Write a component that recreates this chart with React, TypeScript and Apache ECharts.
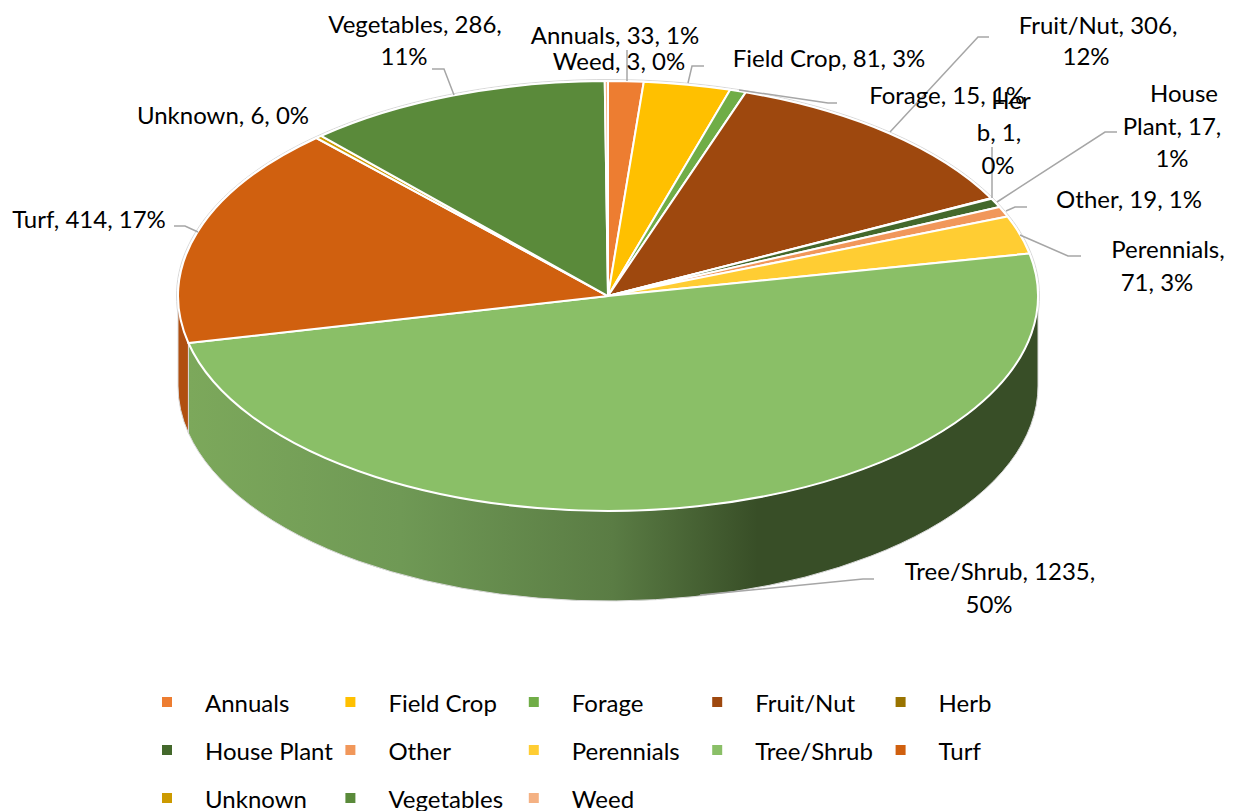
import React, { useEffect, useRef } from "react";
import * as echarts from "echarts";

const categories = ["Annuals","Field Crop","Forage","Fruit/Nut","Herb","House Plant","Other","Perennials","Tree/Shrub","Turf","Unknown","Vegetables","Weed"];
const values = [33,81,15,306,1,17,19,71,1235,414,6,286,3];
const colors = ["#ED7D31","#FFC000","#70AD47","#9E480E","#997300","#43682B","#F1975A","#FFCD33","#8ABF67","#D0600F","#CC9A00","#5A8A3A","#F4B183"];
const sideColors: any = { "Turf": "#B04F10" };

const labelTexts = [
  { t: "Annuals, 33, 1%", x: 615, y: 34 },
  { t: "Field Crop, 81, 3%", x: 829, y: 57 },
  { t: "Forage, 15, 1%", x: 947, y: 94 },
  { t: "Fruit/Nut, 306,", x: 1098, y: 24 },
  { t: "12%", x: 1086, y: 55 },
  { t: "Her", x: 1011, y: 99 },
  { t: "b, 1,", x: 999, y: 131 },
  { t: "0%", x: 998, y: 164 },
  { t: "House", x: 1184, y: 92 },
  { t: "Plant, 17,", x: 1172, y: 125 },
  { t: "1%", x: 1172, y: 157 },
  { t: "Other, 19, 1%", x: 1129, y: 198 },
  { t: "Perennials,", x: 1168, y: 248 },
  { t: "71, 3%", x: 1157, y: 281 },
  { t: "Tree/Shrub, 1235,", x: 1000, y: 570 },
  { t: "50%", x: 989, y: 603 },
  { t: "Turf, 414, 17%", x: 89, y: 218 },
  { t: "Unknown, 6, 0%", x: 223, y: 114 },
  { t: "Vegetables, 286,", x: 415, y: 23 },
  { t: "11%", x: 404, y: 55 },
  { t: "Weed, 3, 0%", x: 619, y: 60 },
];

const leaders = [
  [[627,50],[627,81]],
  [[688,83],[692,66],[704,66]],
  [[739,90],[828,103],[837,103]],
  [[890,132],[978,37],[989,37]],
  [[992,147],[992,198]],
  [[997,202],[1105,132],[1117,132]],
  [[1006,211],[1015,207],[1027,207]],
  [[1020,235],[1068,256],[1081,256]],
  [[700,595],[863,579],[874,579]],
  [[198,232],[185,226],[174,226]],
  [[454,95],[444,69],[432,69]],
];

const CX = 608, CY = 296, RX = 430, RY = 215, DEPTH = 90;
const FONT = "Lato";
const FS = 24;

const total = values.reduce((a, b) => a + b, 0);
const pt = (deg: number, dy = 0) => {
  const r = (deg * Math.PI) / 180;
  return [CX + RX * Math.sin(r), CY - RY * Math.cos(r) + dy];
};
const spans = (() => {
  let acc = 0;
  return values.map((v) => {
    const a0 = (acc / total) * 360;
    acc += v;
    return [a0, (acc / total) * 360];
  });
})();

export default function App() {
  const ref = useRef<HTMLDivElement>(null);
  useEffect(() => {
    document.body.style.margin = "0";
    const chart = echarts.init(ref.current!, null, { renderer: "svg" });
    const series = categories.map((name, i) => ({
      type: "custom",
      name,
      coordinateSystem: "none",
      silent: true,
      itemStyle: { color: colors[i] },
      data: [[values[i]]],
      renderItem: () => {
        const [a0, a1] = spans[i];
        const s = pt(a0), e = pt(a1);
        const large = a1 - a0 > 180 ? 1 : 0;
        const children: any[] = [];
        const lo = Math.max(a0, 90), hi = Math.min(a1, 270);
        if (lo < hi) {
          const p0 = pt(lo), p1 = pt(hi), q1 = pt(hi, DEPTH), q0 = pt(lo, DEPTH);
          const fill = name === "Tree/Shrub"
            ? {
                type: "linear", x: 0, y: 0, x2: 1, y2: 0,
                colorStops: [
                  { offset: 0, color: "#7CA85B" },
                  { offset: 0.25, color: "#6F9955" },
                  { offset: 0.5, color: "#5A7C44" },
                  { offset: 0.67, color: "#384E27" },
                  { offset: 1, color: "#384E27" },
                ],
              }
            : sideColors[name] || colors[i];
          children.push({
            type: "path",
            z2: 1,
            shape: {
              pathData: `M ${p0[0]} ${p0[1]} A ${RX} ${RY} 0 0 1 ${p1[0]} ${p1[1]} L ${q1[0]} ${q1[1]} A ${RX} ${RY} 0 0 0 ${q0[0]} ${q0[1]} Z`,
            },
            style: { fill, stroke: "#DADADA", lineWidth: 1 },
          });
        }
        children.push({
          type: "path",
          z2: 2,
          shape: {
            pathData: `M ${CX} ${CY} L ${s[0]} ${s[1]} A ${RX} ${RY} 0 ${large} 1 ${e[0]} ${e[1]} Z`,
          },
          style: { fill: colors[i], stroke: "#FFFFFF", lineWidth: 2, lineJoin: "round" },
        });
        return { type: "group", children };
      },
    }));

    const legends = categories.map((name, i) => ({
      data: [{ name, icon: "rect" }],
      left: 162 + (i % 5) * 183.4,
      top: 703 + Math.floor(i / 5) * 48 - 15,
      padding: 0,
      itemWidth: 10,
      itemHeight: 10,
      selectedMode: false,
      textStyle: { fontFamily: FONT, fontSize: FS, color: "#000000", lineHeight: 20, padding: [0, 0, 8, 28] },
    }));

    const graphic = [
      {
        type: "ellipse", silent: true, z: -1,
        shape: { cx: CX, cy: CY, rx: RX + 1.5, ry: RY + 1.5 },
        style: { fill: "none", stroke: "#D9D9D9", lineWidth: 1 },
      },
      ...leaders.map((points) => ({
        type: "polyline", silent: true, z: 5,
        shape: { points },
        style: { fill: "none", stroke: "#A6A6A6", lineWidth: 1.5 },
      })),
      ...labelTexts.map((l) => ({
        type: "text", silent: true, z: 6, x: l.x, y: l.y,
        style: { text: l.t, fontFamily: FONT, fontSize: FS, fill: "#000000", align: "center", verticalAlign: "middle" },
      })),
    ];

    chart.setOption({ animation: false, backgroundColor: "#FFFFFF", legend: legends, series, graphic });
    return () => chart.dispose();
  }, []);
  return <div ref={ref} style={{ width: 1238, height: 811, overflow: "hidden" }} />;
}
